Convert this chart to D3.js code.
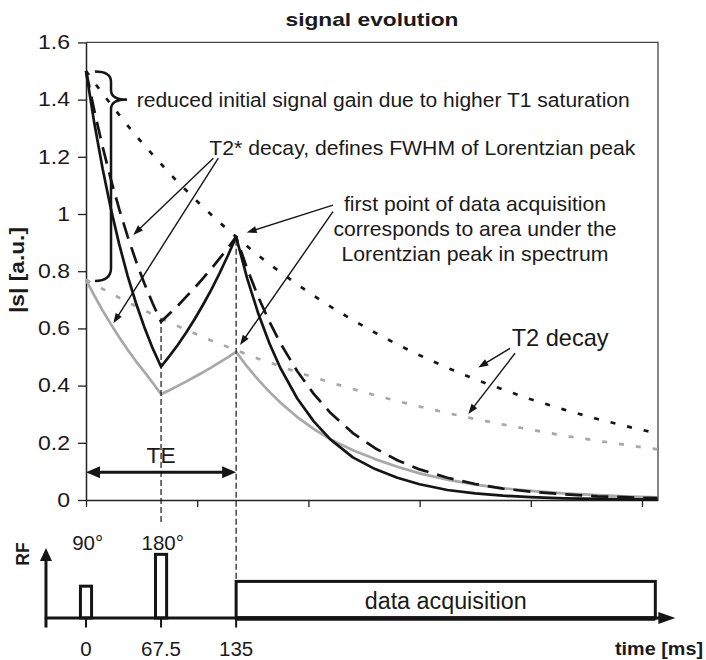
<!DOCTYPE html>
<html>
<head>
<meta charset="utf-8">
<title>signal evolution</title>
<script src="https://cdn.jsdelivr.net/npm/d3@7/dist/d3.min.js"></script>
<style>
    body { margin: 0; background: #ffffff; }
    text { font-family: "Liberation Sans", Arial, Helvetica, sans-serif; fill: #1a1a1a; }
</style>
</head>
<body>
<svg id="canvas" width="706" height="660"></svg>
<script>
// sample times of the echo curves (ms)
let time_ms = [0, 7.5, 15, 22.5, 30, 37.5, 45, 52.5, 60, 67.5, 75, 82.5, 90, 97.5, 105, 112.5, 120, 127.5, 135,
    145, 155, 165, 175, 190, 205, 220, 240, 260, 280, 300, 325, 350, 375, 400, 430, 460, 490, 514]

// |s|, one list per curve
let t2_full = [1.5, 1.460, 1.421, 1.383, 1.346, 1.309, 1.274, 1.240, 1.207, 1.175, 1.143, 1.112, 1.083, 1.054, 1.025, 0.998, 0.971, 0.945, 0.920,
    0.887, 0.855, 0.825, 0.796, 0.754, 0.714, 0.676, 0.629, 0.585, 0.544, 0.506, 0.462, 0.422, 0.386, 0.352, 0.316, 0.283, 0.254, 0.233]
let t2_sat = [0.770, 0.754, 0.738, 0.722, 0.707, 0.692, 0.677, 0.663, 0.649, 0.635, 0.621, 0.608, 0.595, 0.583, 0.570, 0.558, 0.546, 0.535, 0.524,
    0.509, 0.494, 0.481, 0.467, 0.447, 0.429, 0.411, 0.388, 0.366, 0.346, 0.327, 0.304, 0.283, 0.264, 0.246, 0.225, 0.207, 0.190, 0.177]
let t2star_short = [1.5, 1.317, 1.157, 1.016, 0.892, 0.783, 0.688, 0.604, 0.530, 0.466, 0.503, 0.542, 0.585, 0.631, 0.681, 0.734, 0.792, 0.854, 0.920,
    0.774, 0.651, 0.547, 0.460, 0.355, 0.274, 0.211, 0.149, 0.108, 0.078, 0.055, 0.035, 0.023, 0.015, 0.010, 0.006, 0.004, 0.002, 0.0015]
let t2star_long = [1.5, 1.361, 1.234, 1.119, 1.015, 0.921, 0.835, 0.757, 0.687, 0.623, 0.651, 0.679, 0.710, 0.741, 0.774, 0.808, 0.844, 0.881, 0.920,
    0.808, 0.709, 0.623, 0.547, 0.450, 0.370, 0.304, 0.234, 0.181, 0.139, 0.107, 0.078, 0.056, 0.040, 0.029, 0.020, 0.013, 0.009, 0.0065]
let t2star_sat = [0.770, 0.715, 0.662, 0.614, 0.568, 0.525, 0.485, 0.448, 0.410, 0.370, 0.384, 0.399, 0.414, 0.430, 0.446, 0.463, 0.481, 0.499, 0.518,
    0.466, 0.420, 0.378, 0.340, 0.290, 0.248, 0.212, 0.174, 0.143, 0.116, 0.093, 0.071, 0.054, 0.041, 0.032, 0.023, 0.017, 0.012, 0.0095]

let y_ticks = [0, 0.2, 0.4, 0.6, 0.8, 1, 1.2, 1.4, 1.6]
let y_tick_labels = ['0', '0.2', '0.4', '0.6', '0.8', '1', '1.2', '1.4', '1.6']
let x_ticks = [0, 100, 200, 300, 400, 500]

// RF / acquisition timing
let rf_ticks = [0, 67.5, 135]
let rf_tick_labels = ['0', '67.5', '135']
let pulse_times = [0, 67.5]
let pulse_amps = [1, 2]
let pulse_labels = ['90°', '180°']
let acq_window = [135, 512]
let acq_amp = 1.15

let note_texts = [
    'reduced initial signal gain due to higher T1 saturation',
    'T2* decay, defines FWHM of Lorentzian peak',
    'first point of data acquisition',
    'corresponds to area under the',
    'Lorentzian peak in spectrum',
    'T2 decay'
]

const black = '#151515'
const grey = '#a8a8a8'

let canvas = d3.select('#canvas')

let x = d3.scaleLinear().domain([0, 514.4]).range([86, 658])
let y = d3.scaleLinear().domain([0, 1.6]).range([500, 42.4])
let rfY = d3.scaleLinear().domain([0, 2.2]).range([618, 548])

// ---- helpers
function arrow(g, x1, y1, x2, y2, o) {
    let dx = x2 - x1, dy = y2 - y1
    let L = Math.sqrt(dx * dx + dy * dy)
    let ux = dx / L, uy = dy / L
    let head = (px, py, vx, vy) => {
        let bx = px - vx * o.len, by = py - vy * o.len
        return [[px, py], [bx - vy * o.half, by + vx * o.half], [bx + vy * o.half, by - vx * o.half]]
    }
    let sx = x1, sy = y1
    if (o.both) { sx = x1 + ux * o.len * 0.7; sy = y1 + uy * o.len * 0.7 }
    g.append('line')
        .attr('x1', sx).attr('y1', sy)
        .attr('x2', x2 - ux * o.len * 0.7).attr('y2', y2 - uy * o.len * 0.7)
        .attr('stroke', black).attr('stroke-width', o.w)
    g.append('polygon').attr('points', head(x2, y2, ux, uy).join(' ')).attr('fill', black)
    if (o.both) g.append('polygon').attr('points', head(x1, y1, -ux, -uy).join(' ')).attr('fill', black)
}

function label(g, str, px, py, o) {
    let t = g.append('text')
        .attr('x', px).attr('y', py).attr('dy', '0.35em')
        .attr('font-size', o.size)
        .attr('text-anchor', o.anchor || 'start')
        .attr('font-weight', o.bold ? 'bold' : 'normal')
        .text(str)
    if (o.width) t.attr('textLength', o.width).attr('lengthAdjust', 'spacingAndGlyphs')
    return t
}

// ---- title
label(canvas, 'signal evolution', x(257.2), 19, {size: 19, bold: true, anchor: 'middle', width: 173})

// ---- axes and frame
let yAxis = canvas.append('g')
    .attr('transform', 'translate(' + x(0) + ',0)')
    .call(d3.axisLeft(y).tickValues(y_ticks).tickFormat((d, i) => y_tick_labels[i])
        .tickSize(8).tickSizeOuter(0).tickPadding(8))
yAxis.select('.domain').attr('stroke', '#222').attr('stroke-width', 1.5)
yAxis.selectAll('.tick line').attr('stroke', '#222').attr('stroke-width', 1.3)
yAxis.selectAll('.tick text')
    .attr('font-family', '"Liberation Sans", Arial, sans-serif')
    .attr('font-size', 19.5)
    .attr('fill', '#1a1a1a')
    .attr('x', -16 / 1.18)
    .attr('transform', 'scale(1.18,1)')

let xAxis = canvas.append('g')
    .attr('transform', 'translate(0,' + y(0) + ')')
    .call(d3.axisBottom(x).tickValues(x_ticks).tickFormat('').tickSize(7).tickSizeOuter(0))
xAxis.select('.domain').attr('stroke', '#222').attr('stroke-width', 1.5)
xAxis.selectAll('.tick line').attr('stroke', '#222').attr('stroke-width', 1.3)

canvas.append('path')
    .attr('d', 'M' + x(0) + ',' + y(1.6) + 'H' + x(514.4) + 'V' + y(0))
    .attr('fill', 'none').attr('stroke', '#444').attr('stroke-width', 1.3)

// ---- curves
let series = [
    {vals: t2_sat, color: grey, dash: '5,12'},
    {vals: t2star_sat, color: grey, dash: null},
    {vals: t2_full, color: black, dash: '5,12'},
    {vals: t2star_long, color: black, dash: '17,9'},
    {vals: t2star_short, color: black, dash: null}
]

let line = d3.line()
    .x((d, i) => x(time_ms[i]))
    .y(d => y(d))

canvas.append('g').selectAll('path')
    .data(series)
    .enter()
    .append('path')
    .attr('d', s => line(s.vals))
    .attr('fill', 'none')
    .attr('stroke', s => s.color)
    .attr('stroke-width', 2.7)
    .attr('stroke-dasharray', s => s.dash)
    .attr('stroke-linejoin', 'round')

// ---- guide lines at 180° pulse and echo
let guides = canvas.append('g')
    .attr('stroke', black).attr('stroke-width', 1.2).attr('stroke-dasharray', '6,3')
guides.append('line').attr('x1', x(67.5)).attr('x2', x(67.5)).attr('y1', y(0.636)).attr('y2', rfY(3.0))
guides.append('line').attr('x1', x(135)).attr('x2', x(135)).attr('y1', y(0.91)).attr('y2', rfY(acq_amp))

// ---- annotations
let notes = canvas.append('g')

notes.append('path')
    .attr('d', 'M' + x(8) + ',' + y(1.498) +
        'Q' + x(22.5) + ',' + y(1.498) + ' ' + x(22.5) + ',' + y(1.462) +
        'L' + x(22.5) + ',' + y(1.434) +
        'Q' + x(22.5) + ',' + y(1.4) + ' ' + x(36.9) + ',' + y(1.4) +
        'Q' + x(22.5) + ',' + y(1.4) + ' ' + x(22.5) + ',' + y(1.366) +
        'L' + x(22.5) + ',' + y(0.811) +
        'Q' + x(22.5) + ',' + y(0.766) + ' ' + x(8) + ',' + y(0.766))
    .attr('fill', 'none').attr('stroke', black).attr('stroke-width', 2.5)

label(notes, note_texts[0], x(45.6), y(1.4), {size: 20, width: 493})
label(notes, note_texts[1], x(110.9), y(1.232), {size: 21, width: 426})
label(notes, note_texts[2], x(349.8), y(1.035), {size: 21, anchor: 'middle', width: 262})
label(notes, note_texts[3], x(349.8), y(0.948), {size: 21, anchor: 'middle', width: 283})
label(notes, note_texts[4], x(349.8), y(0.860), {size: 21, anchor: 'middle', width: 267})
label(notes, note_texts[5], x(382.8), y(0.568), {size: 24, width: 97})

let thin = {w: 1.4, len: 10, half: 3.6}
let pointers = [
    [[114.5, 1.195], [42.5, 0.927]],
    [[119.0, 1.195], [24.6, 0.618]],
    [[222.1, 1.031], [144.5, 0.935]],
    [[222.1, 1.008], [138.5, 0.542]],
    [[381.3, 0.530], [352.8, 0.463]],
    [[385.8, 0.513], [343.8, 0.301]]
]
pointers.forEach(p => arrow(notes, x(p[0][0]), y(p[0][1]), x(p[1][0]), y(p[1][1]), thin))

// TE span
arrow(notes, x(0), y(0.097), x(135), y(0.097), {w: 3.2, len: 14, half: 6, both: true})
label(notes, 'TE', x(67.5), y(0.158), {size: 22, anchor: 'middle', width: 29})

// ---- axis titles
canvas.append('text')
    .attr('transform', 'translate(24,270) rotate(-90)')
    .attr('text-anchor', 'middle')
    .attr('font-size', 21).attr('font-weight', 'bold')
    .attr('textLength', 86).attr('lengthAdjust', 'spacingAndGlyphs')
    .text('|s| [a.u.]')

// ---- RF / acquisition diagram
let rf = canvas.append('g')

rf.selectAll('rect.pulse')
    .data(pulse_times)
    .enter()
    .append('rect')
    .attr('class', 'pulse')
    .attr('x', d => x(d - 5))
    .attr('width', d => x(d + 5) - x(d - 5))
    .attr('y', (d, i) => rfY(pulse_amps[i]))
    .attr('height', (d, i) => rfY(0) - rfY(pulse_amps[i]))
    .attr('fill', 'white').attr('stroke', black).attr('stroke-width', 3)

rf.append('rect')
    .attr('x', x(acq_window[0]))
    .attr('width', x(acq_window[1]) - x(acq_window[0]))
    .attr('y', rfY(acq_amp))
    .attr('height', rfY(0) - rfY(acq_amp))
    .attr('fill', 'white').attr('stroke', black).attr('stroke-width', 3)
rf.append('line')
    .attr('x1', x(acq_window[0])).attr('x2', x(acq_window[1]))
    .attr('y1', rfY(0) + 0.5).attr('y2', rfY(0) + 0.5)
    .attr('stroke', black).attr('stroke-width', 4.5)

// time axis and RF axis
arrow(rf, x(-37), rfY(0), x(530), rfY(0), {w: 3, len: 17, half: 6})
arrow(rf, x(-36), rfY(-0.3), x(-36), rfY(2.2), {w: 3, len: 13, half: 6})

rf.selectAll('line.rftick')
    .data(rf_ticks)
    .enter()
    .append('line')
    .attr('class', 'rftick')
    .attr('x1', d => x(d)).attr('x2', d => x(d))
    .attr('y1', rfY(0)).attr('y2', rfY(-0.3))
    .attr('stroke', black).attr('stroke-width', 2)

rf.selectAll('text.rflabel')
    .data(rf_ticks)
    .enter()
    .append('text')
    .attr('class', 'rflabel')
    .attr('x', d => x(d))
    .attr('y', 656)
    .attr('text-anchor', 'middle')
    .attr('font-size', 20.5)
    .text((d, i) => rf_tick_labels[i])

rf.selectAll('text.pulselabel')
    .data(pulse_times)
    .enter()
    .append('text')
    .attr('class', 'pulselabel')
    .attr('x', d => x(d + 1.5))
    .attr('y', 550)
    .attr('text-anchor', 'middle')
    .attr('font-size', 20.5)
    .text((d, i) => pulse_labels[i])

label(rf, 'data acquisition', (x(acq_window[0]) + x(acq_window[1])) / 2, rfY(0.55), {size: 23, anchor: 'middle', width: 162})

rf.append('text')
    .attr('x', 703).attr('y', 655)
    .attr('text-anchor', 'end')
    .attr('font-size', 17.5).attr('font-weight', 'bold')
    .attr('textLength', 88).attr('lengthAdjust', 'spacingAndGlyphs')
    .text('time [ms]')

rf.append('text')
    .attr('transform', 'translate(28.5,554) rotate(-90)')
    .attr('text-anchor', 'middle')
    .attr('font-size', 17.5).attr('font-weight', 'bold')
    .text('RF')
</script>
</body>
</html>
